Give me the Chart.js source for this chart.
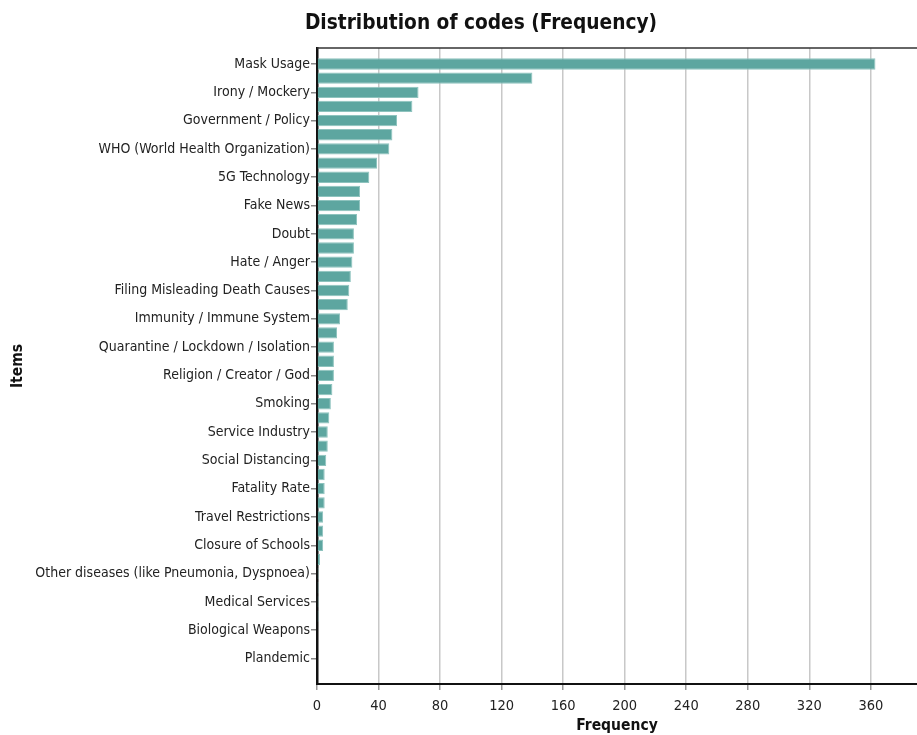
<!DOCTYPE html>
<html>
<head>
<meta charset="utf-8">
<script src="https://cdn.jsdelivr.net/npm/chart.js@4/dist/chart.umd.min.js"></script>
<style>
  html, body { margin: 0; padding: 0; background: #fff; }
  #wrap { width: 917px; height: 735px; position: relative; }
</style>
</head>
<body>
<div id="wrap"><canvas id="c"></canvas></div>
<script>
// Categories (odd rows are unlabeled in the reference)
const categories = [
  "Mask Usage", "", "Irony / Mockery", "", "Government / Policy", "",
  "WHO (World Health Organization)", "", "5G Technology", "", "Fake News", "",
  "Doubt", "", "Hate / Anger", "", "Filing Misleading Death Causes", "",
  "Immunity / Immune System", "", "Quarantine / Lockdown / Isolation", "",
  "Religion / Creator / God", "", "Smoking", "", "Service Industry", "",
  "Social Distancing", "", "Fatality Rate", "", "Travel Restrictions", "",
  "Closure of Schools", "", "Other diseases (like Pneumonia, Dyspnoea)", "",
  "Medical Services", "", "Biological Weapons", "", "Plandemic"
];
const frequencies = [
  363, 140, 66, 62, 52, 49, 47, 39, 34, 28, 28, 26,
  24, 24, 23, 22, 21, 20, 15, 13, 11, 11, 11, 10,
  9, 8, 7, 7, 6, 5, 5, 5, 4, 4, 4, 2,
  1, 1, 1, 1, 0, 0, 0
];
const xTickValues = [0, 40, 80, 120, 160, 200, 240, 280, 320, 360];
const chartTitle = "Distribution of codes (Frequency)";
const xTitle = "Frequency";
const yTitle = "Items";

const FONT = "'DejaVu Sans Condensed', 'DejaVu Sans', sans-serif";

const points = frequencies.map((v, i) => ({ x: v, y: i }));

const decor = {
  id: 'decor',
  afterDraw(chart) {
    const { ctx, chartArea } = chart;
    ctx.save();
    ctx.strokeStyle = '#333';
    ctx.lineWidth = 1.3;
    ctx.beginPath();
    ctx.moveTo(chartArea.left, chartArea.top);
    ctx.lineTo(chart.width, chartArea.top);
    ctx.stroke();
    ctx.fillStyle = '#111';
    ctx.font = "bold 20.7px " + FONT;
    ctx.textAlign = 'center';
    ctx.textBaseline = 'middle';
    ctx.fillText(chartTitle, 481, 24);
    ctx.restore();
  }
};

new Chart(document.getElementById('c'), {
  type: 'bar',
  data: {
    datasets: [{
      data: points,
      backgroundColor: '#5DA6A0',
      borderColor: '#8EC3BE',
      borderWidth: 1,
      categoryPercentage: 1,
      barPercentage: 0.8
    }]
  },
  plugins: [decor],
  options: {
    indexAxis: 'y',
    responsive: true,
    maintainAspectRatio: false,
    animation: false,
    layout: { padding: { top: 48, right: 0, left: 0, bottom: 0 } },
    plugins: { legend: { display: false }, tooltip: { enabled: false }, title: { display: false } },
    scales: {
      x: {
        type: 'linear',
        position: 'bottom',
        min: 0,
        max: 390,
        afterFit(scale) { scale.height = 51; },
        afterBuildTicks(scale) { scale.ticks = xTickValues.map(v => ({ value: v })); },
        ticks: { color: '#222', font: { family: FONT, size: 14.5 }, padding: 8, autoSkip: false },
        grid: { color: '#c8c8c8', lineWidth: 1.5, drawTicks: true, tickLength: 6, tickColor: '#999' },
        border: { display: true, color: '#111', width: 2 },
        title: { display: true, text: xTitle, color: '#111', font: { family: FONT, size: 15.5, weight: 'bold' }, padding: { top: 0, bottom: 0 } }
      },
      y: {
        type: 'linear',
        reverse: true,
        offset: false,
        min: -1.13,
        max: 43.8,
        afterFit(scale) { scale.width = 317; },
        afterBuildTicks(scale) {
          scale.ticks = categories.map((c, i) => ({ value: i })).filter((t, i) => categories[i] !== "");
        },
        ticks: {
          color: '#222', font: { family: FONT, size: 14 }, padding: 1, autoSkip: false,
          callback: (v) => categories[v]
        },
        grid: { offset: false, drawOnChartArea: false, drawTicks: true, tickLength: 6, color: '#888', lineWidth: 1.5 },
        border: { display: true, color: '#111', width: 2.5 },
        title: { display: true, text: yTitle, color: '#111', font: { family: FONT, size: 15.5, weight: 'bold' }, padding: { top: 8.5, bottom: 0 } }
      }
    }
  }
});
</script>
</body>
</html>
